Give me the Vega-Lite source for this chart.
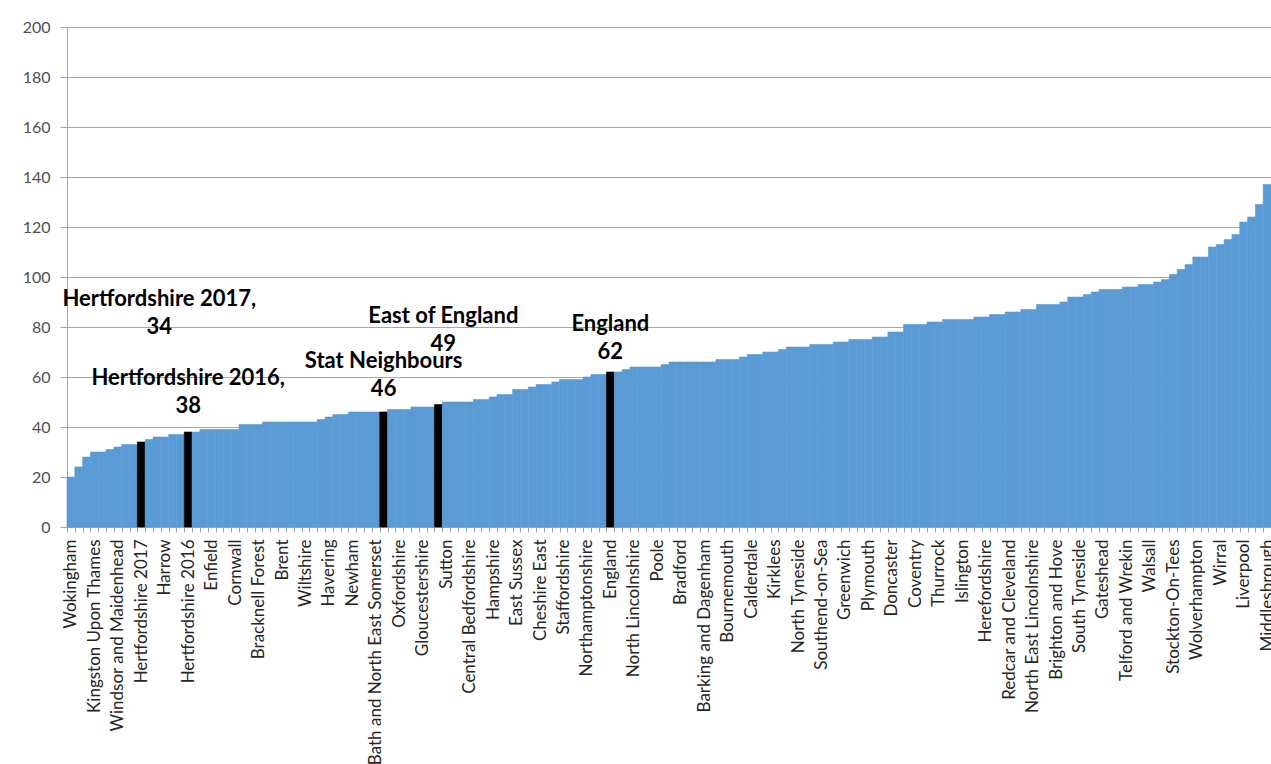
{
  "$schema": "https://vega.github.io/schema/vega-lite/v6.json",
  "width": 1204,
  "height": 500,
  "autosize": {"type": "none"},
  "padding": {"left": 67, "top": 27, "right": 0, "bottom": 237},
  "background": "white",
  "config": {"view": {"stroke": null}, "font": "Lato"},
  "data": {"values": [
    {"area": "Wokingham", "rate": 20, "group": "LA"},
    {"area": "LA 1", "rate": 24, "group": "LA"},
    {"area": "LA 2", "rate": 28, "group": "LA"},
    {"area": "Kingston Upon Thames", "rate": 30, "group": "LA"},
    {"area": "LA 4", "rate": 30, "group": "LA"},
    {"area": "LA 5", "rate": 31, "group": "LA"},
    {"area": "Windsor and Maidenhead", "rate": 32, "group": "LA"},
    {"area": "LA 7", "rate": 33, "group": "LA"},
    {"area": "LA 8", "rate": 33, "group": "LA"},
    {"area": "Hertfordshire 2017", "rate": 34, "group": "Highlight"},
    {"area": "LA 10", "rate": 35, "group": "LA"},
    {"area": "LA 11", "rate": 36, "group": "LA"},
    {"area": "Harrow", "rate": 36, "group": "LA"},
    {"area": "LA 13", "rate": 37, "group": "LA"},
    {"area": "LA 14", "rate": 37, "group": "LA"},
    {"area": "Hertfordshire 2016", "rate": 38, "group": "Highlight"},
    {"area": "LA 16", "rate": 38, "group": "LA"},
    {"area": "LA 17", "rate": 39, "group": "LA"},
    {"area": "Enfield", "rate": 39, "group": "LA"},
    {"area": "LA 19", "rate": 39, "group": "LA"},
    {"area": "LA 20", "rate": 39, "group": "LA"},
    {"area": "Cornwall", "rate": 39, "group": "LA"},
    {"area": "LA 22", "rate": 41, "group": "LA"},
    {"area": "LA 23", "rate": 41, "group": "LA"},
    {"area": "Bracknell Forest", "rate": 41, "group": "LA"},
    {"area": "LA 25", "rate": 42, "group": "LA"},
    {"area": "LA 26", "rate": 42, "group": "LA"},
    {"area": "Brent", "rate": 42, "group": "LA"},
    {"area": "LA 28", "rate": 42, "group": "LA"},
    {"area": "LA 29", "rate": 42, "group": "LA"},
    {"area": "Wiltshire", "rate": 42, "group": "LA"},
    {"area": "LA 31", "rate": 42, "group": "LA"},
    {"area": "LA 32", "rate": 43, "group": "LA"},
    {"area": "Havering", "rate": 44, "group": "LA"},
    {"area": "LA 34", "rate": 45, "group": "LA"},
    {"area": "LA 35", "rate": 45, "group": "LA"},
    {"area": "Newham", "rate": 46, "group": "LA"},
    {"area": "LA 37", "rate": 46, "group": "LA"},
    {"area": "LA 38", "rate": 46, "group": "LA"},
    {"area": "Bath and North East Somerset", "rate": 46, "group": "LA"},
    {"area": "Stat Neighbours", "rate": 46, "group": "Highlight"},
    {"area": "LA 41", "rate": 47, "group": "LA"},
    {"area": "Oxfordshire", "rate": 47, "group": "LA"},
    {"area": "LA 43", "rate": 47, "group": "LA"},
    {"area": "LA 44", "rate": 48, "group": "LA"},
    {"area": "Gloucestershire", "rate": 48, "group": "LA"},
    {"area": "LA 46", "rate": 48, "group": "LA"},
    {"area": "East of England", "rate": 49, "group": "Highlight"},
    {"area": "Sutton", "rate": 50, "group": "LA"},
    {"area": "LA 49", "rate": 50, "group": "LA"},
    {"area": "LA 50", "rate": 50, "group": "LA"},
    {"area": "Central Bedfordshire", "rate": 50, "group": "LA"},
    {"area": "LA 52", "rate": 51, "group": "LA"},
    {"area": "LA 53", "rate": 51, "group": "LA"},
    {"area": "Hampshire", "rate": 52, "group": "LA"},
    {"area": "LA 55", "rate": 53, "group": "LA"},
    {"area": "LA 56", "rate": 53, "group": "LA"},
    {"area": "East Sussex", "rate": 55, "group": "LA"},
    {"area": "LA 58", "rate": 55, "group": "LA"},
    {"area": "LA 59", "rate": 56, "group": "LA"},
    {"area": "Cheshire East", "rate": 57, "group": "LA"},
    {"area": "LA 61", "rate": 57, "group": "LA"},
    {"area": "LA 62", "rate": 58, "group": "LA"},
    {"area": "Staffordshire", "rate": 59, "group": "LA"},
    {"area": "LA 64", "rate": 59, "group": "LA"},
    {"area": "LA 65", "rate": 59, "group": "LA"},
    {"area": "Northamptonshire", "rate": 60, "group": "LA"},
    {"area": "LA 67", "rate": 61, "group": "LA"},
    {"area": "LA 68", "rate": 61, "group": "LA"},
    {"area": "England", "rate": 62, "group": "Highlight"},
    {"area": "LA 70", "rate": 62, "group": "LA"},
    {"area": "LA 71", "rate": 63, "group": "LA"},
    {"area": "North Lincolnshire", "rate": 64, "group": "LA"},
    {"area": "LA 73", "rate": 64, "group": "LA"},
    {"area": "LA 74", "rate": 64, "group": "LA"},
    {"area": "Poole", "rate": 64, "group": "LA"},
    {"area": "LA 76", "rate": 65, "group": "LA"},
    {"area": "LA 77", "rate": 66, "group": "LA"},
    {"area": "Bradford", "rate": 66, "group": "LA"},
    {"area": "LA 79", "rate": 66, "group": "LA"},
    {"area": "LA 80", "rate": 66, "group": "LA"},
    {"area": "Barking and Dagenham", "rate": 66, "group": "LA"},
    {"area": "LA 82", "rate": 66, "group": "LA"},
    {"area": "LA 83", "rate": 67, "group": "LA"},
    {"area": "Bournemouth", "rate": 67, "group": "LA"},
    {"area": "LA 85", "rate": 67, "group": "LA"},
    {"area": "LA 86", "rate": 68, "group": "LA"},
    {"area": "Calderdale", "rate": 69, "group": "LA"},
    {"area": "LA 88", "rate": 69, "group": "LA"},
    {"area": "LA 89", "rate": 70, "group": "LA"},
    {"area": "Kirklees", "rate": 70, "group": "LA"},
    {"area": "LA 91", "rate": 71, "group": "LA"},
    {"area": "LA 92", "rate": 72, "group": "LA"},
    {"area": "North Tyneside", "rate": 72, "group": "LA"},
    {"area": "LA 94", "rate": 72, "group": "LA"},
    {"area": "LA 95", "rate": 73, "group": "LA"},
    {"area": "Southend-on-Sea", "rate": 73, "group": "LA"},
    {"area": "LA 97", "rate": 73, "group": "LA"},
    {"area": "LA 98", "rate": 74, "group": "LA"},
    {"area": "Greenwich", "rate": 74, "group": "LA"},
    {"area": "LA 100", "rate": 75, "group": "LA"},
    {"area": "LA 101", "rate": 75, "group": "LA"},
    {"area": "Plymouth", "rate": 75, "group": "LA"},
    {"area": "LA 103", "rate": 76, "group": "LA"},
    {"area": "LA 104", "rate": 76, "group": "LA"},
    {"area": "Doncaster", "rate": 78, "group": "LA"},
    {"area": "LA 106", "rate": 78, "group": "LA"},
    {"area": "LA 107", "rate": 81, "group": "LA"},
    {"area": "Coventry", "rate": 81, "group": "LA"},
    {"area": "LA 109", "rate": 81, "group": "LA"},
    {"area": "LA 110", "rate": 82, "group": "LA"},
    {"area": "Thurrock", "rate": 82, "group": "LA"},
    {"area": "LA 112", "rate": 83, "group": "LA"},
    {"area": "LA 113", "rate": 83, "group": "LA"},
    {"area": "Islington", "rate": 83, "group": "LA"},
    {"area": "LA 115", "rate": 83, "group": "LA"},
    {"area": "LA 116", "rate": 84, "group": "LA"},
    {"area": "Herefordshire", "rate": 84, "group": "LA"},
    {"area": "LA 118", "rate": 85, "group": "LA"},
    {"area": "LA 119", "rate": 85, "group": "LA"},
    {"area": "Redcar and Cleveland", "rate": 86, "group": "LA"},
    {"area": "LA 121", "rate": 86, "group": "LA"},
    {"area": "LA 122", "rate": 87, "group": "LA"},
    {"area": "North East Lincolnshire", "rate": 87, "group": "LA"},
    {"area": "LA 124", "rate": 89, "group": "LA"},
    {"area": "LA 125", "rate": 89, "group": "LA"},
    {"area": "Brighton and Hove", "rate": 89, "group": "LA"},
    {"area": "LA 127", "rate": 90, "group": "LA"},
    {"area": "LA 128", "rate": 92, "group": "LA"},
    {"area": "South Tyneside", "rate": 92, "group": "LA"},
    {"area": "LA 130", "rate": 93, "group": "LA"},
    {"area": "LA 131", "rate": 94, "group": "LA"},
    {"area": "Gateshead", "rate": 95, "group": "LA"},
    {"area": "LA 133", "rate": 95, "group": "LA"},
    {"area": "LA 134", "rate": 95, "group": "LA"},
    {"area": "Telford and Wrekin", "rate": 96, "group": "LA"},
    {"area": "LA 136", "rate": 96, "group": "LA"},
    {"area": "LA 137", "rate": 97, "group": "LA"},
    {"area": "Walsall", "rate": 97, "group": "LA"},
    {"area": "LA 139", "rate": 98, "group": "LA"},
    {"area": "LA 140", "rate": 99, "group": "LA"},
    {"area": "Stockton-On-Tees", "rate": 101, "group": "LA"},
    {"area": "LA 142", "rate": 103, "group": "LA"},
    {"area": "LA 143", "rate": 105, "group": "LA"},
    {"area": "Wolverhampton", "rate": 108, "group": "LA"},
    {"area": "LA 145", "rate": 108, "group": "LA"},
    {"area": "LA 146", "rate": 112, "group": "LA"},
    {"area": "Wirral", "rate": 113, "group": "LA"},
    {"area": "LA 148", "rate": 115, "group": "LA"},
    {"area": "LA 149", "rate": 117, "group": "LA"},
    {"area": "Liverpool", "rate": 122, "group": "LA"},
    {"area": "LA 151", "rate": 124, "group": "LA"},
    {"area": "LA 152", "rate": 129, "group": "LA"},
    {"area": "Middlesbrough", "rate": 137, "group": "LA"}
  ]},
  "layer": [
    {
      "mark": {"type": "bar", "strokeWidth": 0.6},
      "encoding": {
        "x": {
          "field": "area", "type": "nominal", "sort": null,
          "scale": {"paddingInner": 0, "paddingOuter": 0},
          "axis": {
            "title": null, "labelAngle": -90, "labelFontSize": 17, "labelColor": "#262626",
            "labelPadding": 7, "tickSize": 5, "tickColor": "#a6a6a6", "tickBand": "extent",
            "domainColor": "#a6a6a6", "labelOverlap": false, "labelLimit": 400, "grid": false,
            "labelExpr": "round(datum.index * 153) % 3 === 0 ? datum.label : ''"
          }
        },
        "y": {
          "field": "rate", "type": "quantitative",
          "scale": {"domain": [0, 200], "nice": false},
          "axis": {
            "title": null, "values": [0, 20, 40, 60, 80, 100, 120, 140, 160, 180, 200],
            "labelFontSize": 16, "labelColor": "#505050", "tickSize": 7, "tickColor": "#a6a6a6",
            "labelPadding": 10, "domainColor": "#a6a6a6", "grid": true, "gridColor": "#a6a6a6"
          }
        },
        "color": {"field": "group", "type": "nominal", "scale": {"domain": ["LA", "Highlight"], "range": ["#5B9BD5", "#000000"]}, "legend": null},
        "stroke": {"field": "group", "type": "nominal", "scale": {"domain": ["LA", "Highlight"], "range": ["#5B9BD5", "#000000"]}, "legend": null}
      }
    },
    {
      "transform": [{"filter": "datum.area === 'Hertfordshire 2017'"}],
      "mark": {"type": "text", "text": ["Hertfordshire 2017,", "34"], "fontWeight": "bold", "fontSize": 22, "lineHeight": 28, "baseline": "middle", "align": "center", "dx": 18, "color": "#000000"},
      "encoding": {"x": {"field": "area", "type": "nominal", "sort": null}, "y": {"datum": 91.2}}
    },
    {
      "transform": [{"filter": "datum.area === 'Hertfordshire 2016'"}],
      "mark": {"type": "text", "text": ["Hertfordshire 2016,", "38"], "fontWeight": "bold", "fontSize": 22, "lineHeight": 28, "baseline": "middle", "align": "center", "color": "#000000"},
      "encoding": {"x": {"field": "area", "type": "nominal", "sort": null}, "y": {"datum": 59.6}}
    },
    {
      "transform": [{"filter": "datum.area === 'Stat Neighbours'"}],
      "mark": {"type": "text", "text": ["Stat Neighbours", "46"], "fontWeight": "bold", "fontSize": 22, "lineHeight": 28, "baseline": "middle", "align": "center", "color": "#000000"},
      "encoding": {"x": {"field": "area", "type": "nominal", "sort": null}, "y": {"datum": 66.4}}
    },
    {
      "transform": [{"filter": "datum.area === 'East of England'"}],
      "mark": {"type": "text", "text": ["East of England", "49"], "fontWeight": "bold", "fontSize": 22, "lineHeight": 28, "baseline": "middle", "align": "center", "dx": 5, "color": "#000000"},
      "encoding": {"x": {"field": "area", "type": "nominal", "sort": null}, "y": {"datum": 84.4}}
    },
    {
      "transform": [{"filter": "datum.area === 'England'"}],
      "mark": {"type": "text", "text": ["England", "62"], "fontWeight": "bold", "fontSize": 22, "lineHeight": 28, "baseline": "middle", "align": "center", "color": "#000000"},
      "encoding": {"x": {"field": "area", "type": "nominal", "sort": null}, "y": {"datum": 81.2}}
    }
  ]
}
